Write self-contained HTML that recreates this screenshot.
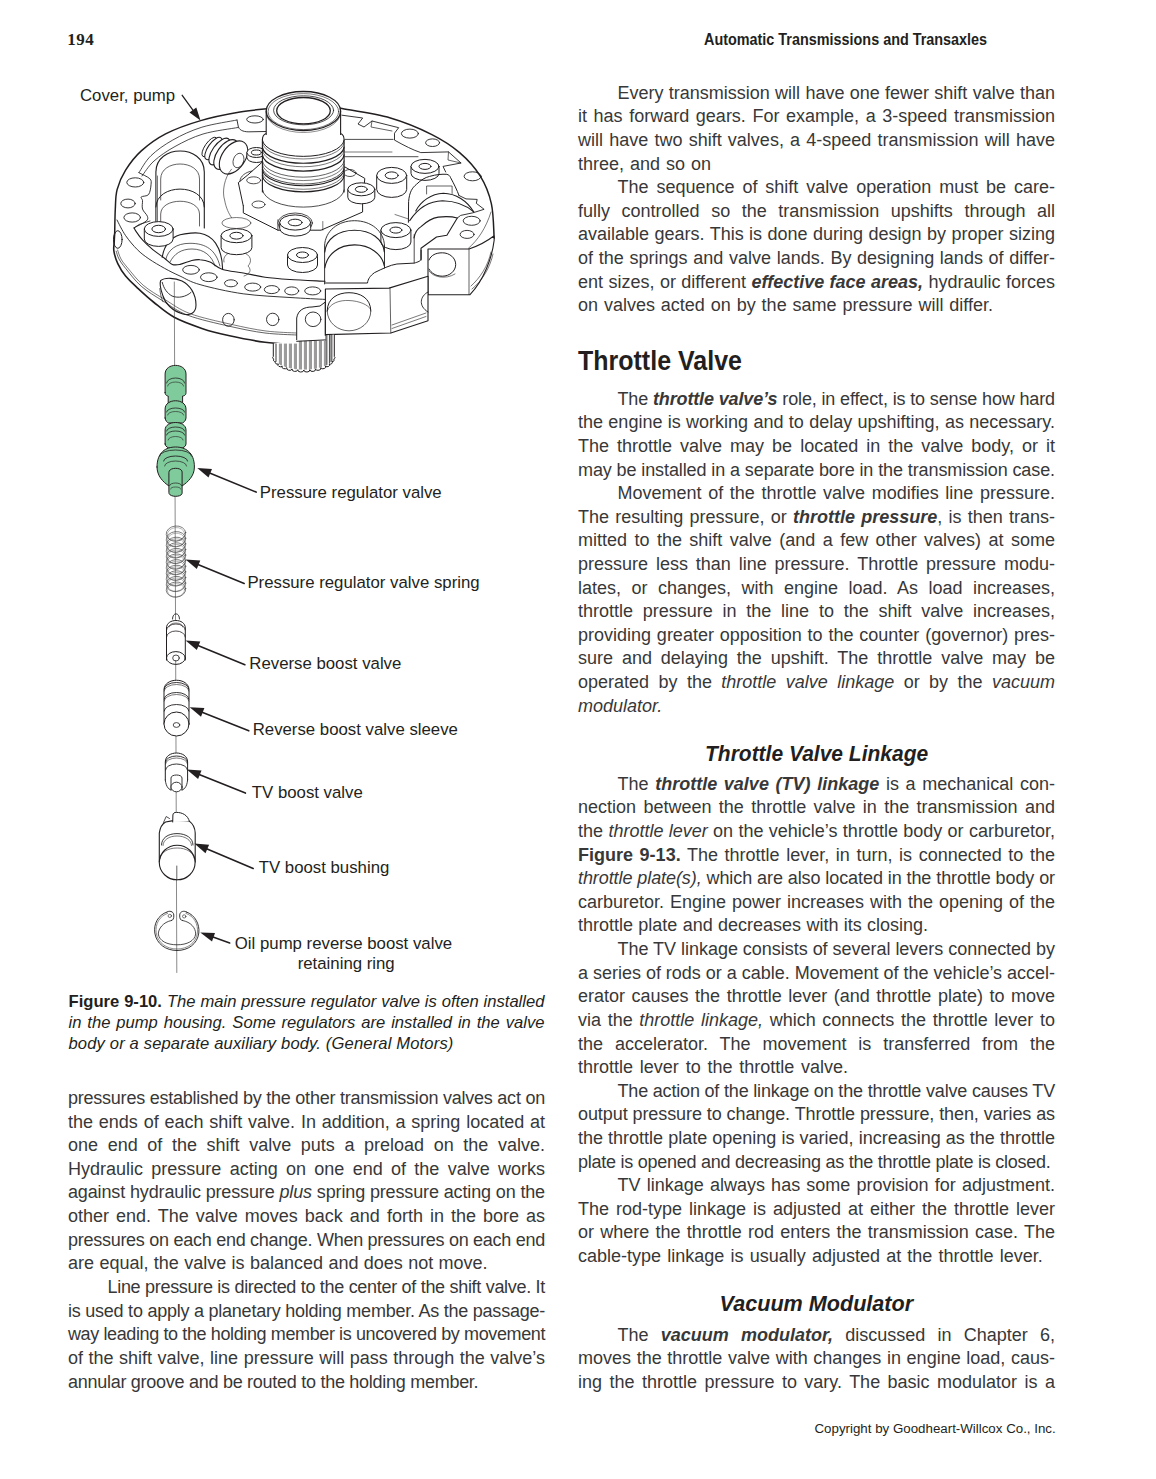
<!DOCTYPE html>
<html><head><meta charset="utf-8">
<style>
html,body{margin:0;padding:0;background:#fff;}
body{width:1156px;height:1479px;position:relative;overflow:hidden;font-family:"Liberation Sans",sans-serif;color:#231f20;}
.blk{position:absolute;width:477.0px;font-size:18.0px;line-height:23.6px;}
.ln{position:absolute;color:#383838;white-space:nowrap;height:23.6px;font-size:18.0px;line-height:23.6px;}
.in{padding-left:39.5px;}
.a{position:absolute;white-space:nowrap;}
.lbl{position:absolute;white-space:nowrap;font-size:16.8px;line-height:20px;}
.cap{position:absolute;left:68.5px;width:476px;font-size:16.2px;line-height:20.75px;}
.cap div{white-space:nowrap;height:20.75px;}
.h2{position:absolute;font-weight:bold;font-size:27px;line-height:30px;white-space:nowrap;transform-origin:0 0;}
.h3{position:absolute;font-weight:bold;font-style:italic;font-size:21.6px;line-height:26px;white-space:nowrap;transform-origin:0 0;}
svg{position:absolute;left:0;top:0;}
</style></head><body>
<div class="a" style="left:67.3px;top:29.6px;font-family:'Liberation Serif',serif;font-weight:bold;font-size:17px;letter-spacing:0.45px;line-height:20px;">194</div>
<div class="a" style="left:704.2px;top:29.6px;font-weight:bold;font-size:15.8px;line-height:20px;transform:scaleX(0.911);transform-origin:0 0;">Automatic Transmissions and Transaxles</div>
<div class="h2" style="left:577.5px;top:345.7px;transform:scaleX(0.926);">Throttle Valve</div>
<div class="h3" style="left:705px;top:740.6px;transform:scaleX(0.972);">Throttle Valve Linkage</div>
<div class="h3" style="left:719.6px;top:1291.2px;transform:scaleX(1.0);">Vacuum Modulator</div>
<div class="cap" style="top:992.2px;font-size:16.6px;">
<div style="word-spacing:0.31px"><b>Figure 9-10.</b> <i>The main pressure regulator valve is often installed</i></div>
<div style="word-spacing:1.29px"><i>in the pump housing. Some regulators are installed in the valve</i></div>
<div style="letter-spacing:0.14px"><i>body or a separate auxiliary body. (General Motors)</i></div>
</div>
<div class="lbl" style="left:80px;top:85.6px;">Cover, pump</div>
<div class="lbl" style="left:259.8px;top:482.7px;">Pressure regulator valve</div>
<div class="lbl" style="left:247.4px;top:573.4px;">Pressure regulator valve spring</div>
<div class="lbl" style="left:249.3px;top:654.3px;">Reverse boost valve</div>
<div class="lbl" style="left:252.7px;top:719.7px;">Reverse boost valve sleeve</div>
<div class="lbl" style="left:251.8px;top:782.5px;">TV boost valve</div>
<div class="lbl" style="left:258.7px;top:858.4px;">TV boost bushing</div>
<div class="lbl" style="left:234.8px;top:933.6px;">Oil pump reverse boost valve</div>
<div class="lbl" style="left:297.7px;top:953.6px;">retaining ring</div>
<div class="a" style="left:814.5px;top:1421.1px;font-size:13.32px;line-height:16px;">Copyright by Goodheart-Willcox Co., Inc.</div>
<div class="ln in" style="left:578.0px;top:82px;word-spacing:0.287px">Every transmission will have one fewer shift valve than</div>
<div class="ln" style="left:578.0px;top:105px;word-spacing:1.600px">it has forward gears. For example, a 3-speed transmission</div>
<div class="ln" style="left:578.0px;top:129px;word-spacing:1.200px">will have two shift valves, a 4-speed transmission will have</div>
<div class="ln" style="left:578.0px;top:153px;word-spacing:0.964px">three, and so on</div>
<div class="ln in" style="left:578.0px;top:176px;word-spacing:2.908px">The sequence of shift valve operation must be care-</div>
<div class="ln" style="left:578.0px;top:200px;word-spacing:6.540px">fully controlled so the transmission upshifts through all</div>
<div class="ln" style="left:578.0px;top:223px;word-spacing:0.450px">available gears. This is done during design by proper sizing</div>
<div class="ln" style="left:578.0px;top:247px;word-spacing:0.705px">of the springs and valve lands. By designing lands of differ-</div>
<div class="ln" style="left:578.0px;top:271px;word-spacing:0.422px">ent sizes, or different <b><i>effective face areas,</i></b> hydraulic forces</div>
<div class="ln" style="left:578.0px;top:294px;word-spacing:0.901px">on valves acted on by the same pressure will differ.</div>
<div class="ln in" style="left:578.0px;top:388px;letter-spacing:-0.140px">The <b><i>throttle valve’s</i></b> role, in effect, is to sense how hard</div>
<div class="ln" style="left:578.0px;top:411px;word-spacing:0.339px">the engine is working and to delay upshifting, as necessary.</div>
<div class="ln" style="left:578.0px;top:435px;word-spacing:3.009px">The throttle valve may be located in the valve body, or it</div>
<div class="ln" style="left:578.0px;top:459px;letter-spacing:-0.103px">may be installed in a separate bore in the transmission case.</div>
<div class="ln in" style="left:578.0px;top:482px;word-spacing:1.614px">Movement of the throttle valve modifies line pressure.</div>
<div class="ln" style="left:578.0px;top:506px;word-spacing:1.227px">The resulting pressure, or <b><i>throttle pressure</i></b>, is then trans-</div>
<div class="ln" style="left:578.0px;top:529px;word-spacing:2.435px">mitted to the shift valve (and a few other valves) at some</div>
<div class="ln" style="left:578.0px;top:553px;word-spacing:2.873px">pressure less than line pressure. Throttle pressure modu-</div>
<div class="ln" style="left:578.0px;top:577px;word-spacing:5.467px">lates, or changes, with engine load. As load increases,</div>
<div class="ln" style="left:578.0px;top:600px;word-spacing:4.752px">throttle pressure in the line to the shift valve increases,</div>
<div class="ln" style="left:578.0px;top:624px;word-spacing:0.819px">providing greater opposition to the counter (governor) pres-</div>
<div class="ln" style="left:578.0px;top:647px;word-spacing:3.896px">sure and delaying the upshift. The throttle valve may be</div>
<div class="ln" style="left:578.0px;top:671px;word-spacing:4.413px">operated by the <i>throttle valve linkage</i> or by the <i>vacuum</i></div>
<div class="ln" style="left:578.0px;top:695px;"><i>modulator.</i></div>
<div class="ln in" style="left:578.0px;top:773px;word-spacing:1.666px">The <b><i>throttle valve (TV) linkage</i></b> is a mechanical con-</div>
<div class="ln" style="left:578.0px;top:796px;word-spacing:2.340px">nection between the throttle valve in the transmission and</div>
<div class="ln" style="left:578.0px;top:820px;word-spacing:0.339px">the <i>throttle lever</i> on the vehicle’s throttle body or carburetor,</div>
<div class="ln" style="left:578.0px;top:844px;word-spacing:1.608px"><b>Figure 9-13.</b> The throttle lever, in turn, is connected to the</div>
<div class="ln" style="left:578.0px;top:867px;letter-spacing:-0.081px"><i>throttle plate(s),</i> which are also located in the throttle body or</div>
<div class="ln" style="left:578.0px;top:891px;word-spacing:0.963px">carburetor. Engine power increases with the opening of the</div>
<div class="ln" style="left:578.0px;top:914px;word-spacing:0.319px">throttle plate and decreases with its closing.</div>
<div class="ln in" style="left:578.0px;top:938px;letter-spacing:-0.026px">The TV linkage consists of several levers connected by</div>
<div class="ln" style="left:578.0px;top:962px;letter-spacing:-0.015px">a series of rods or a cable. Movement of the vehicle’s accel-</div>
<div class="ln" style="left:578.0px;top:985px;word-spacing:1.528px">erator causes the throttle lever (and throttle plate) to move</div>
<div class="ln" style="left:578.0px;top:1009px;word-spacing:1.635px">via the <i>throttle linkage,</i> which connects the throttle lever to</div>
<div class="ln" style="left:578.0px;top:1033px;word-spacing:6.875px">the accelerator. The movement is transferred from the</div>
<div class="ln" style="left:578.0px;top:1056px;word-spacing:1.792px">throttle lever to the throttle valve.</div>
<div class="ln in" style="left:578.0px;top:1080px;letter-spacing:-0.183px">The action of the linkage on the throttle valve causes TV</div>
<div class="ln" style="left:578.0px;top:1103px;letter-spacing:-0.081px">output pressure to change. Throttle pressure, then, varies as</div>
<div class="ln" style="left:578.0px;top:1127px;word-spacing:0.078px">the throttle plate opening is varied, increasing as the throttle</div>
<div class="ln" style="left:578.0px;top:1151px;letter-spacing:-0.251px">plate is opened and decreasing as the throttle plate is closed.</div>
<div class="ln in" style="left:578.0px;top:1174px;word-spacing:1.185px">TV linkage always has some provision for adjustment.</div>
<div class="ln" style="left:578.0px;top:1198px;word-spacing:1.970px">The rod-type linkage is adjusted at either the throttle lever</div>
<div class="ln" style="left:578.0px;top:1221px;word-spacing:1.233px">or where the throttle rod enters the transmission case. The</div>
<div class="ln" style="left:578.0px;top:1245px;word-spacing:1.192px">cable-type linkage is usually adjusted at the throttle lever.</div>
<div class="ln in" style="left:578.0px;top:1324px;word-spacing:7.219px">The <b><i>vacuum modulator,</i></b> discussed in Chapter 6,</div>
<div class="ln" style="left:578.0px;top:1347px;word-spacing:0.635px">moves the throttle valve with changes in engine load, caus-</div>
<div class="ln" style="left:578.0px;top:1371px;word-spacing:2.444px">ing the throttle pressure to vary. The basic modulator is a</div>
<div class="ln" style="left:68.0px;top:1087px;letter-spacing:-0.234px">pressures established by the other transmission valves act on</div>
<div class="ln" style="left:68.0px;top:1111px;word-spacing:0.790px">the ends of each shift valve. In addition, a spring located at</div>
<div class="ln" style="left:68.0px;top:1134px;word-spacing:4.609px">one end of the shift valve puts a preload on the valve.</div>
<div class="ln" style="left:68.0px;top:1158px;word-spacing:3.306px">Hydraulic pressure acting on one end of the valve works</div>
<div class="ln" style="left:68.0px;top:1181px;letter-spacing:-0.136px">against hydraulic pressure <i>plus</i> spring pressure acting on the</div>
<div class="ln" style="left:68.0px;top:1205px;word-spacing:2.004px">other end. The valve moves back and forth in the bore as</div>
<div class="ln" style="left:68.0px;top:1229px;letter-spacing:-0.274px">pressures on each end change. When pressures on each end</div>
<div class="ln" style="left:68.0px;top:1252px;word-spacing:0.369px">are equal, the valve is balanced and does not move.</div>
<div class="ln in" style="left:68.0px;top:1276px;letter-spacing:-0.302px">Line pressure is directed to the center of the shift valve. It</div>
<div class="ln" style="left:68.0px;top:1300px;letter-spacing:-0.239px">is used to apply a planetary holding member. As the passage-</div>
<div class="ln" style="left:68.0px;top:1323px;letter-spacing:-0.384px">way leading to the holding member is uncovered by movement</div>
<div class="ln" style="left:68.0px;top:1347px;word-spacing:0.508px">of the shift valve, line pressure will pass through the valve’s</div>
<div class="ln" style="left:68.0px;top:1371px;letter-spacing:-0.274px">annular groove and be routed to the holding member.</div>
<svg width="1156" height="1479" viewBox="0 0 1156 1479" stroke-linecap="round" stroke-linejoin="round">
<path d="M114.7,233 C114.8,229 114.9,216.2 115.3,209 C115.7,201.8 115.4,196.1 117.1,189.6 C118.8,183.1 121.6,176.6 125.6,170.2 C129.6,163.8 134.6,156.9 141.3,150.9 C148,144.9 155.7,139 165.6,133.9 C175.5,128.8 188.3,124.2 200.7,120.6 C213.1,116.9 228.4,114 240,112 C251.6,110 265,109.1 270,108.5" fill="none" stroke="#231f20" stroke-width="1.5"/>
<path d="M338,108 C338.4,108 331.8,106.6 340.5,108.3 C349.2,110 375.2,113.6 390.4,118 C405.6,122.4 420.4,128.8 431.9,134.6 C443.4,140.4 451.5,145.7 459.6,152.6 C467.7,159.5 475,167.6 480.3,176.1 C485.6,184.6 489.1,193.4 491.4,203.8 C493.7,214.2 493.7,232.6 494.2,238.4" fill="none" stroke="#231f20" stroke-width="1.5"/>
<path d="M138.9,172.7 C140.9,169.9 145.3,161.1 151,155.7 C156.7,150.2 164.3,144.8 172.8,140 C181.3,135.2 191.2,130.5 201.9,127.2 C212.6,123.9 231.2,121.2 237,120" fill="none" stroke="#231f20" stroke-width="0.8"/>
<path d="M142,176 C144,173.5 148.5,165.9 154,161 C159.5,156.1 166.8,151 175,146.5 C183.2,142 192.5,137.2 203,134 C213.5,130.8 232.2,128.6 238,127.5" fill="none" stroke="#231f20" stroke-width="0.8"/>
<path d="M237,120 L238.4,127 C240,131 245,132 250,131.8 L266,131.5" fill="none" stroke="#231f20" stroke-width="0.9"/>
<path d="M138.9,172.7 C140.7,173.7 147.8,176.7 149.8,178.7 C151.8,180.7 151.2,182.2 151,184.8 C150.8,187.4 150.2,192.5 148.6,194.5 C147,196.5 142.3,195.9 141.3,196.9 C140.3,197.9 142.3,198.5 142.5,200.5 C142.7,202.5 141.7,206.4 142.5,209 C143.3,211.6 146.8,214.3 147.4,216.3 C148,218.3 148.2,219.3 146.2,221.1 C144.2,222.9 137.3,226.1 135.3,227.2 C133.3,228.3 134.3,227.7 134.1,227.8" fill="none" stroke="#231f20" stroke-width="0.9"/>
<path d="M341.9,115.2 L362.7,118 L358,124 L364,127 L372,121 L398.7,127.7 L394.5,133.2 L394.5,140.1 C405,146 413,150 420.8,152.6 L448.5,151.9 L461,163 L443,166.4 L445.7,172 " fill="none" stroke="#231f20" stroke-width="0.9"/>
<path d="M372,121 L371,127 L392,131" fill="none" stroke="#231f20" stroke-width="0.7"/>
<path d="M448.5,151.9 L448,160 L461,163" fill="none" stroke="#231f20" stroke-width="0.7"/>
<line x1="344.7" y1="139.4" x2="393.1" y2="139.4" stroke="#231f20" stroke-width="0.8"/>
<line x1="344.7" y1="156.7" x2="418" y2="156.7" stroke="#231f20" stroke-width="0.8"/>
<line x1="344.7" y1="152" x2="392" y2="152" stroke="#231f20" stroke-width="0.6"/>
<path d="M114.7,233 C114.6,234.5 114.3,239 114.2,242 C114.1,245 113.3,247.6 113.9,251.2 C114.5,254.8 115.8,259.5 117.8,263.6 C119.8,267.8 122.3,272.1 125.6,276.1 C128.8,280.1 132.7,283.5 137.3,287.8 C141.9,292.1 147.2,297.1 153.4,302 C159.6,306.9 166.1,312.9 174.2,317.3 C182.3,321.7 192.7,325.3 201.9,328.4 C211.1,331.5 219.1,333.5 229.6,335.8 C240.1,338.1 253.8,340.8 265,342.2 C276.2,343.6 291.4,344.1 296.7,344.5" fill="none" stroke="#231f20" stroke-width="1.6"/>
<path d="M116.2,251.2 C116.7,252.5 117.4,256.1 119,259 C120.6,261.9 121.9,263.8 125.6,268.3 C129.3,272.8 135,280.8 141.2,286.2 C147.4,291.6 155.2,296.1 163,301 C170.8,305.9 176.9,311.1 188,315.3 C199.1,319.5 216.8,323.4 229.6,326.3 C242.4,329.2 253.8,331.6 265,333 C276.2,334.4 291.4,334.7 296.7,335" fill="none" stroke="#231f20" stroke-width="0.7"/>
<path d="M117.6,250 C118.2,251.5 119.3,256 121,259 C122.7,262 123.9,263.4 127.6,267.8 C131.3,272.2 137,279.9 143.2,285.2 C149.4,290.5 157.2,294.9 165,299.6 C172.8,304.3 179,309.5 190,313.6 C201,317.7 218.3,321.4 231,324.3 C243.7,327.2 255.1,329.6 266,331 C276.9,332.4 291.6,332.7 296.7,333" fill="none" stroke="#231f20" stroke-width="0.6"/>
<path d="M117,220 C118.4,222.6 122.2,230.7 125.6,235.6 C129,240.5 133.4,245.7 137.3,249.6 C141.2,253.5 144.4,255.8 148.9,258.9 C153.4,262 159.3,265.4 164.5,268.3 C169.7,271.2 174.2,273.4 180.1,276.1 C186,278.8 189.5,281.7 200,284.6 C210.5,287.6 228.2,291.7 243.2,293.8 C258.2,295.9 276.4,296.6 290,297.5 C303.6,298.4 319.2,299.1 325,299.4" fill="none" stroke="#231f20" stroke-width="0.9"/>
<path d="M134.1,227.8 C134.4,228.3 134.3,228.8 135.7,230.9 C137.1,233 139.8,237.1 142.7,240.2 C145.5,243.3 149.2,246.6 152.8,249.6 C156.4,252.6 161.2,255.7 164.5,258.2 C167.8,260.7 169.7,263.4 172.3,264.4 C174.9,265.4 176.8,265 180.1,264.4 C183.3,263.8 188.5,261.3 191.8,260.5 C195.1,259.7 197,259.4 200,259.7 C203,259.9 206.2,260.4 210,262 C213.8,263.6 217,267.8 222.6,269.6 C228.2,271.4 236.3,271.7 243.4,273 C250.5,274.3 257.2,276.1 265,277.2 C272.8,278.3 280,278.8 290,279.5 C300,280.2 319.2,280.9 325,281.2" fill="none" stroke="#231f20" stroke-width="1.1"/>
<ellipse cx="191" cy="269.8" rx="8.3" ry="4.4" fill="none" stroke="#231f20" stroke-width="0.9"/>
<ellipse cx="208.8" cy="277.2" rx="8.3" ry="4.4" fill="none" stroke="#231f20" stroke-width="0.9"/>
<ellipse cx="231" cy="283.3" rx="6.5" ry="3.5" fill="none" stroke="#231f20" stroke-width="0.9"/>
<ellipse cx="252.7" cy="287.1" rx="8" ry="4" fill="none" stroke="#231f20" stroke-width="0.9"/>
<ellipse cx="271.8" cy="289.6" rx="7.5" ry="4" fill="none" stroke="#231f20" stroke-width="0.9"/>
<ellipse cx="291.7" cy="290.9" rx="7" ry="4" fill="none" stroke="#231f20" stroke-width="0.9"/>
<ellipse cx="312.7" cy="290.9" rx="8" ry="4" fill="none" stroke="#231f20" stroke-width="0.9"/>
<path d="M160.6,280.7 C165,277 175,278 182,281 C190,285 196,294 196,305 C196,313 190,316 183,314 C172,311 165,303 163,296 C161,290 159,285 160.6,280.7 Z" fill="none" stroke="#231f20" stroke-width="1.1"/>
<path d="M162.2,282.3 C164,289 167,293 172,296 C178,298.5 186,297 191,292.4" fill="none" stroke="#231f20" stroke-width="0.9"/>
<path d="M159.8,288.5 C160.5,295 161.5,299 163,301.8" fill="none" stroke="#231f20" stroke-width="0.7"/>
<ellipse cx="228.4" cy="319.8" rx="5.8" ry="6.4" fill="none" stroke="#231f20" stroke-width="0.9"/>
<ellipse cx="272.7" cy="319.4" rx="6.2" ry="6.2" fill="none" stroke="#231f20" stroke-width="0.9"/>
<ellipse cx="117.8" cy="239.5" rx="4.3" ry="8.8" fill="none" stroke="#231f20" stroke-width="1"/>
<ellipse cx="135.3" cy="182.4" rx="8.5" ry="4.6" fill="none" stroke="#231f20" stroke-width="0.9"/>
<ellipse cx="128" cy="203.5" rx="7.2" ry="4.4" fill="none" stroke="#231f20" stroke-width="0.9"/>
<ellipse cx="132.2" cy="217.5" rx="8.3" ry="4.6" fill="none" stroke="#231f20" stroke-width="0.9"/>
<ellipse cx="255" cy="119.4" rx="8.3" ry="3.6" fill="none" stroke="#231f20" stroke-width="0.9"/>
<ellipse cx="409.9" cy="133.6" rx="8.5" ry="4.5" fill="none" stroke="#231f20" stroke-width="0.9"/>
<ellipse cx="432.6" cy="142.7" rx="7" ry="3.8" fill="none" stroke="#231f20" stroke-width="0.9"/>
<ellipse cx="472.6" cy="176.3" rx="8.5" ry="4.5" fill="none" stroke="#231f20" stroke-width="0.9"/>
<ellipse cx="471.7" cy="220.8" rx="8.5" ry="4.5" fill="none" stroke="#231f20" stroke-width="0.9"/>
<ellipse cx="467.1" cy="234.4" rx="7" ry="4" fill="none" stroke="#231f20" stroke-width="0.9"/>
<path d="M155.9,226 L155.9,172 C155.9,144 204.3,144 204.3,172 L204.3,228" fill="none" stroke="#231f20" stroke-width="1.1"/>
<path d="M157.5,228 L157.5,176" fill="none" stroke="#231f20" stroke-width="0.6"/>
<path d="M160.7,200 L160.7,179 C160.7,159 199.5,159 199.5,179 L199.5,200" fill="none" stroke="#231f20" stroke-width="0.7"/>
<path d="M155.9,207 C156.5,183 203.7,183 204.3,207" fill="none" stroke="#231f20" stroke-width="1"/>
<path d="M160.7,228 L160.7,214 C161,197 199.2,197 199.5,214 L199.5,226" fill="none" stroke="#231f20" stroke-width="0.7"/>
<path d="M162.2,257.4 C164,246 170,238 180.1,234.8 C186,233 196,232.6 200,233.2 C212,235 222,246 222.6,268.9" fill="none" stroke="#231f20" stroke-width="1.1"/>
<path d="M165.9,259 C168,250 176,243.3 190,243.3 C206,243.3 216,250 219.9,266" fill="none" stroke="#231f20" stroke-width="0.7"/>
<path d="M170,262 C174,254 181,249 192,249 C204,249 212,256 215,266" fill="none" stroke="#231f20" stroke-width="0.7"/>
<path d="M134.1,227.8 L139,224.5 L150,221" fill="none" stroke="#231f20" stroke-width="0.8"/>
<path d="M144.3,229 L144.3,239 A14.4,7.4 0 0 0 173.1,239 L173.1,229" fill="#fff" stroke="#231f20" stroke-width="1"/>
<ellipse cx="158.7" cy="229" rx="14.4" ry="7.4" fill="#fff" stroke="#231f20" stroke-width="1"/>
<ellipse cx="158.7" cy="229" rx="6.8" ry="3.7" fill="none" stroke="#231f20" stroke-width="1"/>
<ellipse cx="209.5" cy="147" rx="4.5" ry="11.5" fill="#fff" stroke="#231f20" stroke-width="0.9" transform="rotate(35 209.5 147)"/>
<ellipse cx="213.5" cy="148.5" rx="5.5" ry="13" fill="#fff" stroke="#231f20" stroke-width="1" transform="rotate(35 213.5 148.5)"/>
<ellipse cx="219.5" cy="151.5" rx="7" ry="15.5" fill="#fff" stroke="#231f20" stroke-width="1.1" transform="rotate(35 219.5 151.5)"/>
<ellipse cx="226" cy="154.5" rx="9" ry="17" fill="#fff" stroke="#231f20" stroke-width="1.1" transform="rotate(35 226 154.5)"/>
<ellipse cx="233.5" cy="157.5" rx="11.5" ry="18.5" fill="#fff" stroke="#231f20" stroke-width="1.1" transform="rotate(35 233.5 157.5)"/>
<ellipse cx="238.5" cy="160.5" rx="5.2" ry="7.5" fill="none" stroke="#231f20" stroke-width="0.7" transform="rotate(20 238.5 160.5)"/>
<path d="M231.5,169.2 C224,178 222,192 224.6,200 C226,208 229,214 231.5,217.6" fill="none" stroke="#231f20" stroke-width="0.6"/>
<ellipse cx="236.4" cy="223" rx="14.5" ry="5.5" fill="none" stroke="#231f20" stroke-width="0.6"/>
<path d="M224,262 C222,254 232,250 242,252 C252,255 252,262 248,266 C252,270 250,274 244,276" fill="none" stroke="#231f20" stroke-width="0.6"/>
<path d="M221.1,235.7 L221.1,247.7 A15.4,7 0 0 0 251.9,247.7 L251.9,235.7" fill="#fff" stroke="#231f20" stroke-width="1"/>
<ellipse cx="236.5" cy="235.7" rx="15.4" ry="7" fill="#fff" stroke="#231f20" stroke-width="1"/>
<ellipse cx="236.5" cy="235.7" rx="6.6" ry="3.4" fill="none" stroke="#231f20" stroke-width="1"/>
<path d="M287.5,255 L287.5,265 A15,7.5 0 0 0 317.5,265 L317.5,255" fill="#fff" stroke="#231f20" stroke-width="1"/>
<ellipse cx="302.5" cy="255" rx="15" ry="7.5" fill="#fff" stroke="#231f20" stroke-width="1"/>
<ellipse cx="302.5" cy="255" rx="6" ry="3" fill="none" stroke="#231f20" stroke-width="1"/>
<path d="M380.9,230.1 L380.9,242.1 A15,7.5 0 0 0 410.9,242.1 L410.9,230.1" fill="#fff" stroke="#231f20" stroke-width="1"/>
<ellipse cx="395.9" cy="230.1" rx="15" ry="7.5" fill="#fff" stroke="#231f20" stroke-width="1"/>
<ellipse cx="395.9" cy="230.1" rx="6" ry="3" fill="none" stroke="#231f20" stroke-width="1"/>
<path d="M376.7,175.4 L376.7,189.4 A15,8 0 0 0 406.7,189.4 L406.7,175.4" fill="#fff" stroke="#231f20" stroke-width="1"/>
<ellipse cx="391.7" cy="175.4" rx="15" ry="8" fill="#fff" stroke="#231f20" stroke-width="1"/>
<ellipse cx="391.7" cy="175.4" rx="6.5" ry="3.5" fill="none" stroke="#231f20" stroke-width="1"/>
<path d="M411,166.4 L411,173.4 A14,7 0 0 0 439,173.4 L439,166.4" fill="#fff" stroke="#231f20" stroke-width="1"/>
<ellipse cx="425" cy="166.4" rx="14" ry="7" fill="#fff" stroke="#231f20" stroke-width="1"/>
<ellipse cx="425" cy="166.4" rx="6" ry="3" fill="none" stroke="#231f20" stroke-width="1"/>
<path d="M324.6,284 L324.6,246 C325,231 338,220.7 354.5,220.7 C371,220.7 384,231 384.5,246 L384.5,268" fill="none" stroke="#231f20" stroke-width="0.9"/>
<path d="M324.8,252 C326,239 338,230.2 354.5,230.2 C371,230.2 383,239 384.3,252" fill="none" stroke="#231f20" stroke-width="1.1"/>
<path d="M324.8,268 C327,254 339,244.9 354.5,244.9 C370,244.9 382,254 384.3,266" fill="none" stroke="#231f20" stroke-width="1.1"/>
<path d="M408.4,222.3 L408.6,201.5 C409.5,192 412,188 416.6,184.2 C421,180 425,177.5 429.6,176.4 C436,174.5 442,174 446.9,174.3 C449,175 450,176 450.4,177.3 C454,184 457,190 459,195.5" fill="none" stroke="#231f20" stroke-width="1"/>
<path d="M426.6,194 L426.6,186 L452.1,186 L452.1,193.5" fill="none" stroke="#231f20" stroke-width="0.7"/>
<path d="M415.8,211 C421,201 431,194 443.4,193.3 C456,193.5 467,201 473.7,211.9" fill="none" stroke="#231f20" stroke-width="1.1"/>
<path d="M409.7,220.6 C418,208 430,201 442.6,200.7 C455,201 466,205 473.7,211.9" fill="none" stroke="#231f20" stroke-width="1.1"/>
<path d="M414,237.9 C415,232 417,229 421,226.6 C427,221 432,218 438.3,217.1 C446,216.3 452,216.5 457.3,218 L446.9,235.3 L436.5,237 L421,248.2 L421,260" fill="none" stroke="#231f20" stroke-width="1.1"/>
<path d="M459,195.5 L466,198.9 L477.2,199.4 L476.3,203.3 L484.1,209.3 L472.9,212.8 L460.7,215.4 L457.3,218" fill="none" stroke="#231f20" stroke-width="0.9"/>
<path d="M491,212 C486,228 478,240 468.5,248.2" fill="none" stroke="#231f20" stroke-width="0.6"/>
<path d="M395,214.5 L408,218.8" fill="none" stroke="#231f20" stroke-width="0.6"/>
<path d="M325,283 L367.5,283 C368,279 370,276 374.4,272.7 C382,269 390,265 396.9,264 L414.2,263.1 C418,262 421,261 421.1,258.8 L421.1,250.2" fill="none" stroke="#231f20" stroke-width="1"/>
<line x1="414.2" y1="234.6" x2="414.2" y2="263" stroke="#231f20" stroke-width="0.8"/>
<path d="M238.4,183 L243.3,206 L277.9,219.8 L312.5,221.5 L362.6,202 L364.8,178.4 L345,167 L262,162.3 L248.1,174.7 Z" fill="#fff" stroke="#231f20" stroke-width="1"/>
<path d="M243.3,206 L243.3,212.9 L277.9,230.2 L321,230.2 L362.6,212 L362.6,202" fill="#fff" stroke="#231f20" stroke-width="1"/>
<line x1="277.9" y1="219.8" x2="277.9" y2="230.2" stroke="#231f20" stroke-width="0.8"/>
<line x1="322.8" y1="221.5" x2="322.8" y2="230.2" stroke="#231f20" stroke-width="0.6"/>
<ellipse cx="258.5" cy="204.5" rx="6.5" ry="3.5" fill="none" stroke="#231f20" stroke-width="0.8"/>
<ellipse cx="350" cy="173" rx="6" ry="3.5" fill="none" stroke="#231f20" stroke-width="0.8"/>
<ellipse cx="253.7" cy="180.3" rx="7" ry="3.5" fill="none" stroke="#231f20" stroke-width="0.8"/>
<path d="M240,181 C240,176 246,172 252,171" fill="none" stroke="#231f20" stroke-width="0.8"/>
<ellipse cx="295.2" cy="223" rx="17.3" ry="10" fill="#fff" stroke="#231f20" stroke-width="0.8"/>
<path d="M279.7,222.5 L279.7,228.5 A15.5,7.6 0 0 0 310.7,228.5 L310.7,222.5" fill="#fff" stroke="#231f20" stroke-width="1"/>
<ellipse cx="295.2" cy="222.5" rx="15.5" ry="7.6" fill="#fff" stroke="#231f20" stroke-width="1"/>
<ellipse cx="295.2" cy="222.5" rx="6.9" ry="3.3" fill="none" stroke="#231f20" stroke-width="1"/>
<path d="M246.9,152.5 L246.9,157.5 A9.5,5 0 0 0 265.9,157.5 L265.9,152.5" fill="#fff" stroke="#231f20" stroke-width="1"/>
<ellipse cx="256.4" cy="152.5" rx="9.5" ry="5" fill="#fff" stroke="#231f20" stroke-width="1"/>
<ellipse cx="256.4" cy="152.5" rx="5" ry="2.5" fill="none" stroke="#231f20" stroke-width="1"/>
<path d="M347.8,189.3 L347.8,197.3 A13.5,6.5 0 0 0 374.8,197.3 L374.8,189.3" fill="#fff" stroke="#231f20" stroke-width="1"/>
<ellipse cx="361.3" cy="189.3" rx="13.5" ry="6.5" fill="#fff" stroke="#231f20" stroke-width="1"/>
<ellipse cx="361.3" cy="189.3" rx="6" ry="3" fill="none" stroke="#231f20" stroke-width="1"/>
<path d="M262.4,140 C262.4,136 263.5,134.5 266,134 L341,134 C343,134.5 344.1,136 344.1,140 L344.1,192 A40.8,16 0 0 1 262.4,192 Z" fill="#fff" stroke="none" stroke-width="0"/>
<path d="M266.2,133.6 C263.5,134.5 262.4,136 262.4,140 L262.4,192" fill="none" stroke="#231f20" stroke-width="1.1"/>
<path d="M340.6,133.6 C343.3,134.5 344.1,136 344.1,140 L344.1,192" fill="none" stroke="#231f20" stroke-width="1.1"/>
<path d="M266.2,111 L266.2,145 L340.6,145 L340.6,111 Z" fill="#fff" stroke="none" stroke-width="0"/>
<line x1="266.2" y1="111" x2="266.2" y2="134.5" stroke="#231f20" stroke-width="1.1"/>
<line x1="340.6" y1="111" x2="340.6" y2="134.5" stroke="#231f20" stroke-width="1.1"/>
<path d="M262.6,190 A40.8,18 0 0 0 344.1,190" fill="none" stroke="#231f20" stroke-width="0.8"/>
<path d="M262.4,140.2 A40.9,17 0 0 0 344.1,140.2" fill="none" stroke="#231f20" stroke-width="1"/>
<path d="M262.4,142.8 A40.9,17 0 0 0 344.1,142.8" fill="none" stroke="#231f20" stroke-width="0.6"/>
<path d="M262.4,147.1 A40.9,17 0 0 0 344.1,147.1" fill="none" stroke="#231f20" stroke-width="1.2"/>
<path d="M262.4,150.6 A40.9,17 0 0 0 344.1,150.6" fill="none" stroke="#231f20" stroke-width="0.6"/>
<path d="M262.4,154.9 A40.9,17 0 0 0 344.1,154.9" fill="none" stroke="#231f20" stroke-width="1.2"/>
<path d="M262.4,161 A40.9,17 0 0 0 344.1,161" fill="none" stroke="#231f20" stroke-width="0.7"/>
<path d="M262.4,164.4 A40.9,17 0 0 0 344.1,164.4" fill="none" stroke="#231f20" stroke-width="0.6"/>
<path d="M262.4,167.9 A40.9,17 0 0 0 344.1,167.9" fill="none" stroke="#231f20" stroke-width="0.8"/>
<path d="M262.4,169.6 A40.9,17 0 0 0 344.1,169.6" fill="none" stroke="#231f20" stroke-width="1.1"/>
<path d="M262.4,173.1 A40.9,17 0 0 0 344.1,173.1" fill="none" stroke="#231f20" stroke-width="0.6"/>
<path d="M262.4,175.7 A40.9,17 0 0 0 344.1,175.7" fill="none" stroke="#231f20" stroke-width="1.2"/>
<ellipse cx="303.4" cy="111" rx="37.2" ry="19.5" fill="#fff" stroke="#231f20" stroke-width="1.3"/>
<ellipse cx="303.4" cy="111.6" rx="35.3" ry="18" fill="none" stroke="#231f20" stroke-width="0.6"/>
<ellipse cx="303.6" cy="110.3" rx="30" ry="14.5" fill="none" stroke="#231f20" stroke-width="0.8"/>
<ellipse cx="303.5" cy="110.7" rx="26.8" ry="13.2" fill="none" stroke="#231f20" stroke-width="1.3"/>
<path d="M266.2,113 A37.2,19.5 0 0 0 340.6,113" fill="none" stroke="#231f20" stroke-width="0.5"/>
<path d="M428,249 L469,249 C478,246 486,242 493.8,236 L494.2,240 C492,258 484,280 470,294.7 L428,294.7 Z" fill="#fff" stroke="#231f20" stroke-width="1.1"/>
<line x1="469" y1="249" x2="469" y2="294.5" stroke="#231f20" stroke-width="0.7"/>
<path d="M429,260 C431,255 436,252.8 442.3,252.8 C449.7,252.8 455.7,258 455.7,264.5 C455.7,271 449.7,276.2 442.3,276.2 C436,276.2 431,273 429,269" fill="none" stroke="#231f20" stroke-width="1"/>
<path d="M429,271 C433,277 445,280 455,274" fill="none" stroke="#231f20" stroke-width="0.6"/>
<path d="M471,286 C480,278 488,266 491,252" fill="none" stroke="#231f20" stroke-width="0.6"/>
<path d="M472,289 C482,281 490,268 493,254" fill="none" stroke="#231f20" stroke-width="0.6"/>
<path d="M296.7,344.2 L296.7,318 C298,310 304,307 312,307 L320,306 L325.3,302 L325.3,340" fill="#fff" stroke="#231f20" stroke-width="1"/>
<ellipse cx="313.1" cy="319.3" rx="7.8" ry="7.3" fill="none" stroke="#231f20" stroke-width="0.9"/>
<path d="M325.4,289 L389,288.1 L428,276.3 L428,320.8 L390.8,333 L325.4,334.6 Z" fill="#fff" stroke="#231f20" stroke-width="1.1"/>
<line x1="390" y1="288.3" x2="390.8" y2="333" stroke="#231f20" stroke-width="0.7"/>
<path d="M327.2,311 C327.2,298 338,292.7 349,292.7 C360,292.7 370.8,298 370.8,311" fill="none" stroke="#231f20" stroke-width="1"/>
<path d="M327.2,311 C327.5,323 338,330.8 349,330.8 C360,330.8 370.8,323 370.8,311" fill="none" stroke="#231f20" stroke-width="0.7"/>
<path d="M327.2,311 C330,303 340,300 349,300.5 C360,301 368,305 370.5,309" fill="none" stroke="#231f20" stroke-width="0.6"/>
<path d="M428,292 C420,296 418,306 428,312" fill="none" stroke="#231f20" stroke-width="0.9"/>
<path d="M392,325 L426,313" fill="none" stroke="#231f20" stroke-width="0.6"/>
<path d="M392,328.5 L426,316.5" fill="none" stroke="#231f20" stroke-width="0.6"/>
<path d="M273.3,343.5 L273.3,356.5 A2.2,1.6 0 0 0 273.9,359.1 A2.2,1.6 0 0 0 275.6,361.7 A2.2,1.6 0 0 0 278.4,364.0 A2.2,1.6 0 0 0 282.2,366.0 A2.2,1.6 0 0 0 286.9,367.7 A2.2,1.6 0 0 0 292.1,369.0 A2.2,1.6 0 0 0 297.8,369.7 A2.2,1.6 0 0 0 303.8,370.0 A2.2,1.6 0 0 0 309.8,369.7 A2.2,1.6 0 0 0 315.5,369.0 A2.2,1.6 0 0 0 320.7,367.7 A2.2,1.6 0 0 0 325.4,366.0 A2.2,1.6 0 0 0 329.2,364.0 A2.2,1.6 0 0 0 332.0,361.7 A2.2,1.6 0 0 0 333.7,359.1 A2.2,1.6 0 0 0 334.3,356.5 L334.3,334.5" fill="#fff" stroke="#231f20" stroke-width="1"/>
<line x1="276" y1="344" x2="276" y2="361.3" stroke="#231f20" stroke-width="0.9"/>
<line x1="279.4" y1="344" x2="279.4" y2="363.8" stroke="#231f20" stroke-width="0.5"/>
<line x1="281" y1="344" x2="281" y2="364.7" stroke="#231f20" stroke-width="0.9"/>
<line x1="284.4" y1="344" x2="284.4" y2="366.1" stroke="#231f20" stroke-width="0.5"/>
<line x1="286" y1="344" x2="286" y2="366.7" stroke="#231f20" stroke-width="0.9"/>
<line x1="289.4" y1="344" x2="289.4" y2="367.6" stroke="#231f20" stroke-width="0.5"/>
<line x1="291" y1="344" x2="291" y2="368" stroke="#231f20" stroke-width="0.9"/>
<line x1="294.4" y1="344" x2="294.4" y2="368.5" stroke="#231f20" stroke-width="0.5"/>
<line x1="296" y1="344" x2="296" y2="368.8" stroke="#231f20" stroke-width="0.9"/>
<line x1="299.4" y1="341.3" x2="299.4" y2="369.1" stroke="#231f20" stroke-width="0.5"/>
<line x1="301" y1="341.3" x2="301" y2="369.1" stroke="#231f20" stroke-width="0.9"/>
<line x1="304.4" y1="341.3" x2="304.4" y2="369.2" stroke="#231f20" stroke-width="0.5"/>
<line x1="306" y1="341.3" x2="306" y2="369.2" stroke="#231f20" stroke-width="0.9"/>
<line x1="309.4" y1="341.3" x2="309.4" y2="369" stroke="#231f20" stroke-width="0.5"/>
<line x1="311" y1="341.3" x2="311" y2="368.8" stroke="#231f20" stroke-width="0.9"/>
<line x1="314.4" y1="341.3" x2="314.4" y2="368.4" stroke="#231f20" stroke-width="0.5"/>
<line x1="316" y1="341.3" x2="316" y2="368.1" stroke="#231f20" stroke-width="0.9"/>
<line x1="319.4" y1="341.3" x2="319.4" y2="367.3" stroke="#231f20" stroke-width="0.5"/>
<line x1="321" y1="341.3" x2="321" y2="366.8" stroke="#231f20" stroke-width="0.9"/>
<line x1="324.4" y1="341.3" x2="324.4" y2="365.7" stroke="#231f20" stroke-width="0.5"/>
<line x1="326" y1="334.6" x2="326" y2="365" stroke="#231f20" stroke-width="0.9"/>
<line x1="329.4" y1="334.6" x2="329.4" y2="363" stroke="#231f20" stroke-width="0.5"/>
<line x1="331" y1="334.6" x2="331" y2="361.8" stroke="#231f20" stroke-width="0.9"/>
<line x1="327" y1="334.6" x2="327" y2="364.5" stroke="#231f20" stroke-width="0.6"/>
<line x1="329.5" y1="334.6" x2="329.5" y2="363" stroke="#231f20" stroke-width="0.6"/>
<line x1="332" y1="334.6" x2="332" y2="360.8" stroke="#231f20" stroke-width="0.6"/>
<line x1="296.7" y1="341.3" x2="325.3" y2="339.9" stroke="#231f20" stroke-width="1"/>
<line x1="174.3" y1="282" x2="176.8" y2="972.5" stroke="#3a3a3a" stroke-width="0.6"/>
<g fill="#80cb9c" stroke="#231f20" stroke-width="1"><path d="M165.1,392.7 L165.1,374 C165.1,362.5 186,362.5 186,374 L186,392.7 C186,396 182.6,396 182.6,396 L182.6,403 L168.2,403 L168.2,396 C168.2,396 165.1,396 165.1,392.7 Z"/><path d="M165.1,418 L165.1,409 C165.1,398 186,398 186,409 L186,418 C186,421 182.6,423 182.6,423 L168.2,423 C168.2,423 165.1,421 165.1,418 Z"/><path d="M165.1,444 L165.1,430 C165.1,420 186,420 186,430 L186,444 C186,447 182,448 182,448 L169,448 C169,448 165.1,447 165.1,444 Z"/><path d="M157,467 C157,452 166,447 175.7,447 C185,447 194.4,452 194.4,467 C194.4,476 188,482 182,486 L169,486 C163,482 157,476 157,467 Z"/><path d="M168.9,472 C168.9,467 182.1,467 182.1,472 L182.1,493 C182.1,497.5 168.9,497.5 168.9,493 Z"/></g>
<path d="M166.6,383 A9,5 0 0 1 184.6,383" fill="none" stroke="#231f20" stroke-width="0.8"/>
<path d="M167.6,386 A8,4 0 0 1 183.6,386" fill="none" stroke="#231f20" stroke-width="0.6"/>
<path d="M166.6,412 A9,4 0 0 1 184.6,412" fill="none" stroke="#231f20" stroke-width="0.8"/>
<path d="M167.6,415 A8,3.5 0 0 1 183.6,415" fill="none" stroke="#231f20" stroke-width="0.6"/>
<path d="M166.6,431 A9,4 0 0 1 184.6,431" fill="none" stroke="#231f20" stroke-width="0.8"/>
<path d="M166.6,435 A9,4 0 0 1 184.6,435" fill="none" stroke="#231f20" stroke-width="0.8"/>
<path d="M168.1,440 A7.5,3.5 0 0 1 183.1,440" fill="none" stroke="#231f20" stroke-width="0.6"/>
<path d="M159.6,456 A16,6 0 0 1 191.6,456" fill="none" stroke="#231f20" stroke-width="0.8"/>
<path d="M163.6,461 A12,5 0 0 1 187.6,461" fill="none" stroke="#231f20" stroke-width="0.9"/>
<path d="M164.6,466 A11,5 0 0 1 186.6,466" fill="none" stroke="#231f20" stroke-width="0.7"/>
<path d="M169.6,485.5 A6,2.5 0 0 1 181.6,485.5" fill="none" stroke="#231f20" stroke-width="0.7"/>
<path d="M170.6,489 A5,2 0 0 1 180.6,489" fill="none" stroke="#231f20" stroke-width="0.6"/>
<ellipse cx="176" cy="533.6" rx="9.8" ry="7.6" fill="none" stroke="#333" stroke-width="0.6" transform="rotate(-6 176 533.6)"/>
<ellipse cx="176" cy="534.2" rx="8.6" ry="6.6" fill="none" stroke="#555" stroke-width="0.4" transform="rotate(-6 176 534.2)"/>
<ellipse cx="176" cy="539.2" rx="9.8" ry="7.6" fill="none" stroke="#333" stroke-width="0.6" transform="rotate(-6 176 539.2)"/>
<ellipse cx="176" cy="539.8" rx="8.6" ry="6.6" fill="none" stroke="#555" stroke-width="0.4" transform="rotate(-6 176 539.8)"/>
<ellipse cx="176" cy="544.8" rx="9.8" ry="7.6" fill="none" stroke="#333" stroke-width="0.6" transform="rotate(-6 176 544.8)"/>
<ellipse cx="176" cy="545.4" rx="8.6" ry="6.6" fill="none" stroke="#555" stroke-width="0.4" transform="rotate(-6 176 545.4)"/>
<ellipse cx="176" cy="550.4" rx="9.8" ry="7.6" fill="none" stroke="#333" stroke-width="0.6" transform="rotate(-6 176 550.4)"/>
<ellipse cx="176" cy="551" rx="8.6" ry="6.6" fill="none" stroke="#555" stroke-width="0.4" transform="rotate(-6 176 551)"/>
<ellipse cx="176" cy="556" rx="9.8" ry="7.6" fill="none" stroke="#333" stroke-width="0.6" transform="rotate(-6 176 556)"/>
<ellipse cx="176" cy="556.6" rx="8.6" ry="6.6" fill="none" stroke="#555" stroke-width="0.4" transform="rotate(-6 176 556.6)"/>
<ellipse cx="176" cy="561.6" rx="9.8" ry="7.6" fill="none" stroke="#333" stroke-width="0.6" transform="rotate(-6 176 561.6)"/>
<ellipse cx="176" cy="562.2" rx="8.6" ry="6.6" fill="none" stroke="#555" stroke-width="0.4" transform="rotate(-6 176 562.2)"/>
<ellipse cx="176" cy="567.2" rx="9.8" ry="7.6" fill="none" stroke="#333" stroke-width="0.6" transform="rotate(-6 176 567.2)"/>
<ellipse cx="176" cy="567.8" rx="8.6" ry="6.6" fill="none" stroke="#555" stroke-width="0.4" transform="rotate(-6 176 567.8)"/>
<ellipse cx="176" cy="572.8" rx="9.8" ry="7.6" fill="none" stroke="#333" stroke-width="0.6" transform="rotate(-6 176 572.8)"/>
<ellipse cx="176" cy="573.4" rx="8.6" ry="6.6" fill="none" stroke="#555" stroke-width="0.4" transform="rotate(-6 176 573.4)"/>
<ellipse cx="176" cy="578.4" rx="9.8" ry="7.6" fill="none" stroke="#333" stroke-width="0.6" transform="rotate(-6 176 578.4)"/>
<ellipse cx="176" cy="579" rx="8.6" ry="6.6" fill="none" stroke="#555" stroke-width="0.4" transform="rotate(-6 176 579)"/>
<ellipse cx="176" cy="584" rx="9.8" ry="7.6" fill="none" stroke="#333" stroke-width="0.6" transform="rotate(-6 176 584)"/>
<ellipse cx="176" cy="584.6" rx="8.6" ry="6.6" fill="none" stroke="#555" stroke-width="0.4" transform="rotate(-6 176 584.6)"/>
<ellipse cx="176" cy="589.6" rx="9.8" ry="7.6" fill="none" stroke="#333" stroke-width="0.6" transform="rotate(-6 176 589.6)"/>
<ellipse cx="176" cy="590.2" rx="8.6" ry="6.6" fill="none" stroke="#555" stroke-width="0.4" transform="rotate(-6 176 590.2)"/>
<path d="M172.5,619 C172.5,612 179.5,612 179.5,619" fill="none" stroke="#231f20" stroke-width="0.9"/>
<path d="M166.5,660 L166.5,628 C166.5,618 185.3,618 185.3,628 L185.3,660" fill="#fff" stroke="#231f20" stroke-width="1"/>
<ellipse cx="175.9" cy="658" rx="9.4" ry="6.4" fill="none" stroke="#231f20" stroke-width="1"/>
<ellipse cx="176" cy="658" rx="3.3" ry="3" fill="none" stroke="#231f20" stroke-width="0.8"/>
<path d="M166.5,630 A9.4,6 0 0 1 185.3,630" fill="none" stroke="#231f20" stroke-width="0.8"/>
<path d="M166.5,637 A9.4,6 0 0 1 185.3,637" fill="none" stroke="#231f20" stroke-width="0.8"/>
<path d="M168.9,627 A7,4 0 0 1 182.9,627" fill="none" stroke="#231f20" stroke-width="0.6"/>
<path d="M164,724 L164,690 C164,677 189,677 189,690 L189,724" fill="#fff" stroke="#231f20" stroke-width="1"/>
<ellipse cx="176.5" cy="724" rx="12.5" ry="12" fill="#fff" stroke="#231f20" stroke-width="1"/>
<ellipse cx="176.5" cy="725" rx="3.3" ry="2.4" fill="none" stroke="#231f20" stroke-width="0.8"/>
<path d="M164.2,689 A12.3,6.5 0 0 1 188.8,689" fill="none" stroke="#231f20" stroke-width="0.9"/>
<path d="M164.2,691 A12.3,6.5 0 0 1 188.8,691" fill="none" stroke="#231f20" stroke-width="0.6"/>
<path d="M164.2,699 A12.3,6.5 0 0 1 188.8,699" fill="none" stroke="#231f20" stroke-width="0.9"/>
<path d="M164.2,701 A12.3,6.5 0 0 1 188.8,701" fill="none" stroke="#231f20" stroke-width="0.6"/>
<path d="M164.2,711 A12.3,6.5 0 0 1 188.8,711" fill="none" stroke="#231f20" stroke-width="0.9"/>
<path d="M165.3,780 L165.3,762 C165.3,750 187.6,750 187.6,762 L187.6,780" fill="#fff" stroke="#231f20" stroke-width="1"/>
<path d="M165.5,762 A11,6 0 0 1 187.5,762" fill="none" stroke="#231f20" stroke-width="0.9"/>
<path d="M165.5,764 A11,6 0 0 1 187.5,764" fill="none" stroke="#231f20" stroke-width="0.6"/>
<path d="M165.5,770 A11,6 0 0 1 187.5,770" fill="none" stroke="#231f20" stroke-width="0.9"/>
<path d="M171,790 L171,778 C171,774 182,774 182,778 L182,790" fill="#fff" stroke="#231f20" stroke-width="0.9"/>
<ellipse cx="176.5" cy="787" rx="5.5" ry="4.8" fill="#fff" stroke="#231f20" stroke-width="0.9"/>
<path d="M165.3,780 C166,788 170,790 171,790" fill="none" stroke="#231f20" stroke-width="0.9"/>
<path d="M187.6,780 C187,788 183,790 182,790" fill="none" stroke="#231f20" stroke-width="0.9"/>
<path d="M159.3,862 L159.3,833 C160,828 162,824 165.6,822 C172,820.5 183,820.5 189.6,821.4 C193,824 195,828 195.2,833 L195.2,862" fill="#fff" stroke="#231f20" stroke-width="1.1"/>
<path d="M172.7,822 L172.9,815 C173,813 174.5,812.4 176.5,812.4 C182,812.4 188,815 189.4,821.5" fill="#fff" stroke="#231f20" stroke-width="1"/>
<path d="M163.5,822.5 L166.2,816.5 L169.5,818.5" fill="none" stroke="#231f20" stroke-width="0.8"/>
<path d="M161.5,845 C161.5,838 168,833.6 177,833.6 C186,833.6 193,838 193,845" fill="none" stroke="#231f20" stroke-width="0.9"/>
<path d="M163,845.5 C163,840 169,836 177,836 C185,836 191.5,840 191.5,845.5" fill="none" stroke="#231f20" stroke-width="0.6"/>
<ellipse cx="177.2" cy="862.5" rx="17.9" ry="17.3" fill="#fff" stroke="#231f20" stroke-width="1.1"/>
<path d="M160,859 C161,852 168,848 177.2,848 C186,848 193.5,852 194.5,859" fill="none" stroke="#231f20" stroke-width="0.6"/>
<line x1="176.8" y1="866" x2="176.8" y2="880" stroke="#231f20" stroke-width="0.7"/>
<path d="M167,912 C158,915 153.5,924 154.8,933 C156.5,944 166,950.5 177,950.5 C188,950.5 197.5,944 198.8,933 C199.8,924 195,915 186.5,912" fill="none" stroke="#231f20" stroke-width="0.9"/>
<path d="M167.6,913.4 C159.5,916 155,924 156.2,933 C158,943 166.5,949 177,949 C187.5,949 196,943 197.4,933 C198.4,924 194,916 185.9,913.4" fill="none" stroke="#231f20" stroke-width="0.5"/>
<path d="M171.5,920.5 C163,922 158.3,929 158.3,934 C159.3,941 167,944.8 177,944.8 C187,944.8 194.7,941 195.7,934 C195.7,928 191,922 182.5,920.5" fill="none" stroke="#231f20" stroke-width="0.8"/>
<path d="M167,912 C169,910.5 173.5,911 173.8,915 C174,918.5 173,920.5 171.5,920.5" fill="none" stroke="#231f20" stroke-width="0.9"/>
<path d="M186.5,912 C184.5,910.5 180,911 179.7,915 C179.5,918.5 180.5,920.5 182.5,920.5" fill="none" stroke="#231f20" stroke-width="0.9"/>
<ellipse cx="169.8" cy="915.9" rx="1.7" ry="1.6" fill="none" stroke="#231f20" stroke-width="0.6"/>
<ellipse cx="184.2" cy="916.4" rx="1.7" ry="1.6" fill="none" stroke="#231f20" stroke-width="0.6"/>
<line x1="182.2" y1="95.3" x2="194" y2="111.6" stroke="#231f20" stroke-width="1.3"/>
<path d="M200.5,120.5 L189.5,112.4 L196.3,107.5 Z" fill="#231f20"/>
<line x1="256.1" y1="492.1" x2="208.4" y2="472.5" stroke="#231f20" stroke-width="1.6"/>
<path d="M197.3,467.9 L212,469 L208.5,477.5 Z" fill="#231f20"/>
<line x1="244.2" y1="583.5" x2="196.7" y2="564" stroke="#231f20" stroke-width="1.6"/>
<path d="M185.6,559.4 L200.3,560.5 L196.8,569 Z" fill="#231f20"/>
<line x1="244.9" y1="664.7" x2="196.7" y2="645.1" stroke="#231f20" stroke-width="1.6"/>
<path d="M185.6,640.6 L200.3,641.6 L196.8,650.1 Z" fill="#231f20"/>
<line x1="248.8" y1="730.8" x2="200.8" y2="711.7" stroke="#231f20" stroke-width="1.6"/>
<path d="M189.7,707.2 L204.4,708.1 L201,716.7 Z" fill="#231f20"/>
<line x1="245.4" y1="793.1" x2="197.9" y2="773.9" stroke="#231f20" stroke-width="1.6"/>
<path d="M186.8,769.4 L201.5,770.4 L198.1,778.9 Z" fill="#231f20"/>
<line x1="253.2" y1="868.5" x2="205.4" y2="848.2" stroke="#231f20" stroke-width="1.6"/>
<path d="M194.4,843.5 L209.1,844.7 L205.5,853.2 Z" fill="#231f20"/>
<line x1="229.7" y1="943" x2="211.6" y2="936.6" stroke="#231f20" stroke-width="1.6"/>
<path d="M200.3,932.6 L215,932.9 L212,941.6 Z" fill="#231f20"/>
</svg>
</body></html>
